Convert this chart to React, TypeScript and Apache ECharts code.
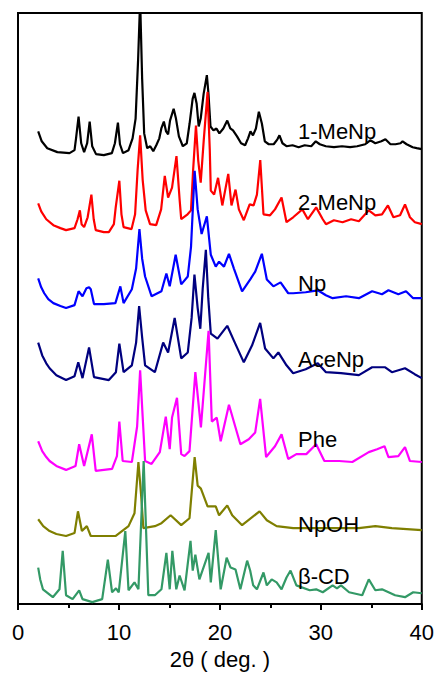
import { useEffect, useRef } from "react";
import * as echarts from "echarts";

type P = [number, number];

const xTicks = [0, 10, 20, 30, 40];
const sampleNames = ["1-MeNp", "2-MeNp", "Np", "AceNp", "Phe", "NpOH", "β-CD"];
const sampleColors = ["#000000", "#ff0000", "#0000ff", "#00007f", "#ff00ff", "#7f7f00", "#339966"];
// cap-centre pixel of each curve label
const labelY = [131.5, 202, 283, 359, 439, 524, 576.5];

const meNp1: P[] = [
  [2.0,479],[2.35,469],[2.9,462],[3.9,458],[5.1,457],[5.6,460],[5.75,472],[6.0,494],[6.26,467],[6.55,458],[6.85,467],[7.1,489],[7.35,464],[7.73,456],[8.5,455],[9.3,457],[9.6,467],[9.9,488],[10.1,466],[10.4,457],[10.95,460],[11.35,472],[11.65,492],[11.9,552],[12.1,612],[12.3,532],[12.5,477],[12.8,462],[13.1,464],[13.4,459],[13.7,465],[14.0,472],[14.2,482],[14.45,489],[14.67,479],[14.87,476],[15.06,490],[15.42,502],[15.65,492],[15.94,474],[16.33,464],[16.72,467],[17.0,487],[17.3,512],[17.48,518],[17.7,507],[17.9,484],[18.1,492],[18.39,517],[18.71,536],[18.87,517],[19.07,484],[19.36,480],[19.66,482],[19.95,477],[20.34,482],[20.73,490],[21.03,482],[21.3,480],[21.7,474],[22.1,467],[22.5,465],[22.79,472],[23.03,479],[23.28,475],[23.57,482],[23.86,499],[24.16,487],[24.45,469],[24.84,466],[25.33,466],[25.7,471],[25.9,475],[26.2,467],[26.6,464],[27.2,465],[27.8,463],[28.4,465],[29.05,464],[29.5,469],[29.9,466],[30.5,464],[31.3,463],[32.1,464],[32.9,463],[33.6,464],[34.4,466],[34.9,470],[35.4,467],[36.0,469],[36.4,471],[36.9,466],[37.4,466],[37.9,467],[38.1,469],[38.5,466],[39.1,463],[39.5,462],[40.0,461]
];

const meNp2: P[] = [
  [2.0,406],[2.3,398],[2.8,390],[3.5,384],[4.2,381],[4.76,379],[5.6,381],[5.9,390],[6.13,399],[6.3,385],[6.55,382],[6.9,392],[7.27,415],[7.5,390],[7.7,379],[8.5,377],[9.0,377],[9.5,385],[9.68,402],[10.04,429],[10.25,395],[10.46,382],[11.25,380],[11.6,395],[11.85,440],[12.1,475],[12.35,430],[12.65,399],[13.08,385],[13.69,384],[14.18,400],[14.54,434],[14.87,412],[15.26,422],[15.7,454],[16.01,410],[16.17,390],[16.8,395],[17.14,399],[17.35,440],[17.63,485],[17.85,450],[18.1,427],[18.4,470],[18.78,519],[19.0,460],[19.1,419],[19.43,415],[19.82,432],[20.24,404],[20.83,436],[21.15,404],[21.55,420],[21.88,400],[22.37,389],[22.95,405],[23.34,404],[23.67,415],[24.0,450],[24.32,395],[24.97,394],[25.46,400],[26.11,412],[26.6,387],[27.26,392],[28.17,400],[28.72,390],[29.54,402],[30.19,390],[30.51,385],[31.3,389],[32.15,387],[33.0,390],[33.77,388],[34.75,399],[35.4,394],[36.06,395],[36.65,404],[37.19,392],[37.85,394],[38.34,405],[38.83,392],[39.32,387],[40.0,385]
];

const np: P[] = [
  [2.0,330],[2.3,321],[2.6,315],[3.0,309],[3.5,305],[4.2,302],[4.76,300],[5.6,303],[6.0,317],[6.39,312],[6.78,320],[7.04,321],[7.21,319],[7.53,304],[8.5,304],[9.65,305],[10.14,322],[10.46,305],[11.28,319],[11.7,340],[12.03,380],[12.3,350],[12.59,332],[13.23,312],[14.21,317],[14.7,335],[15.03,322],[15.62,354],[16.17,324],[16.82,332],[17.14,362],[17.5,439],[17.8,400],[18.19,375],[18.71,393],[19.1,354],[19.59,342],[19.92,347],[20.41,342],[20.9,355],[21.39,340],[22.2,317],[23.01,329],[23.5,337],[24.16,355],[24.65,329],[25.3,322],[26.01,326],[26.77,315],[27.26,315],[28.5,316],[29.7,318],[30.5,313],[31.17,310],[32.5,312],[33.77,310],[35.08,317],[36.06,314],[36.7,318],[37.68,314],[38.44,317],[39.15,310],[40.0,310]
];

const aceNp: P[] = [
  [2.0,265],[2.4,252],[2.8,244],[3.13,239],[3.8,232],[4.76,227],[5.6,231],[5.97,245],[6.39,229],[7.04,260],[7.53,230],[9.0,227],[9.7,235],[10.04,264],[10.46,235],[11.28,242],[11.7,265],[12.0,302],[12.3,270],[12.59,242],[13.56,235],[14.38,265],[14.87,255],[15.52,290],[16.17,249],[16.82,255],[17.2,290],[17.48,334],[17.8,300],[18.06,279],[18.3,320],[18.61,359],[18.85,310],[19.1,274],[19.76,269],[20.73,282],[21.39,267],[22.37,245],[23.18,262],[23.99,285],[24.48,259],[25.3,249],[25.79,255],[26.6,242],[27.26,234],[28.5,238],[29.7,244],[30.51,235],[32.0,234],[33.77,232],[35.08,240],[36.38,240],[37.04,235],[38.34,239],[39.3,233],[40.0,229]
];

const phe: P[] = [
  [2.0,165],[2.4,155],[2.8,149],[3.13,145],[3.8,140],[4.76,136],[5.7,140],[6.06,162],[6.55,140],[7.31,172],[7.7,135],[9.32,137],[9.8,150],[10.04,185],[10.37,145],[11.28,144],[11.8,180],[12.1,237],[12.35,190],[12.59,145],[13.23,142],[14.05,154],[14.64,190],[15.03,157],[15.26,189],[15.75,209],[16.17,152],[16.5,150],[16.99,155],[17.57,235],[18.12,179],[18.88,277],[19.2,185],[19.69,189],[20.08,165],[20.9,202],[21.55,179],[22.03,162],[22.86,167],[23.5,174],[23.99,208],[24.58,149],[25.46,160],[26.11,172],[26.77,147],[27.58,152],[28.56,152],[29.54,162],[30.35,145],[31.81,145],[33.12,144],[34.75,154],[35.57,157],[36.31,160],[36.7,149],[37.68,150],[38.34,159],[38.83,145],[40.0,144]
];

const npOH: P[] = [
  [2.0,86],[2.5,79],[3.13,74],[3.8,71],[4.76,69],[5.6,72],[5.94,94],[6.33,74],[6.82,79],[7.21,69],[9.65,69],[10.95,79],[11.54,92],[11.93,144],[12.2,110],[12.42,77],[13.56,79],[14.21,82],[15.12,90],[16.17,80],[16.99,87],[17.5,149],[17.8,120],[18.12,117],[18.78,99],[19.59,99],[19.92,90],[20.73,100],[21.22,90],[22.2,80],[23.93,94],[24.65,85],[25.62,79],[27.26,77],[30.51,77],[33.77,77],[35.4,79],[37.04,77],[40.0,75]
];

const betaCD: P[] = [
  [2.0,37],[2.2,25],[2.47,15],[3.45,7],[4.11,15],[4.43,54],[4.76,9],[5.41,5],[6.06,14],[6.39,5],[7.36,2],[8.34,5],[8.9,45],[9.32,12],[9.71,16],[9.98,12],[10.63,74],[10.95,14],[11.54,22],[11.93,15],[12.45,145],[12.91,9],[13.56,9],[14.21,15],[14.7,52],[15.03,15],[15.29,54],[15.68,15],[16.01,29],[16.5,14],[17.09,64],[17.31,34],[17.57,50],[17.97,25],[18.88,52],[19.1,22],[19.59,75],[20.08,15],[20.67,47],[21.06,37],[21.55,35],[22.03,15],[22.7,44],[23.0,34],[23.3,19],[23.67,15],[24.32,32],[24.65,19],[25.13,25],[25.62,22],[26.11,15],[26.6,27],[27.0,34],[27.58,19],[28.9,14],[29.54,15],[30.19,12],[31.17,19],[31.6,16],[32.0,19],[32.8,12],[34.1,9],[34.75,25],[35.4,14],[36.06,15],[37.36,9],[38.34,7],[39.15,12],[40.0,11]
];

const patterns: P[][] = [meNp1, meNp2, np, aceNp, phe, npOH, betaCD];

export default function App() {
  const ref = useRef<HTMLDivElement>(null);
  useEffect(() => {
    if (!ref.current) return;
    const chart = echarts.init(ref.current, null, { renderer: "svg", width: 437, height: 675 });
    const font = "'Liberation Sans', Arial, sans-serif";
    chart.setOption({
      animation: false,
      grid: {
        left: 18, right: 10, top: 13, bottom: 63,
        show: true, borderColor: "#000", borderWidth: 2, backgroundColor: "transparent",
      },
      xAxis: {
        type: "value",
        min: xTicks[0],
        max: xTicks[xTicks.length - 1],
        interval: 10,
        name: "2θ ( deg. )",
        nameLocation: "middle",
        nameGap: 41,
        nameTextStyle: { fontSize: 22, color: "#000", fontFamily: font },
        axisLine: { show: true, lineStyle: { color: "#000", width: 2 } },
        axisTick: { show: true, length: 6, lineStyle: { color: "#000", width: 2 } },
        minorTick: { show: true, splitNumber: 2, length: 4, lineStyle: { color: "#000", width: 2 } },
        splitLine: { show: false },
        axisLabel: { fontSize: 22, color: "#000", fontFamily: font, margin: 17 },
      },
      yAxis: {
        type: "value",
        min: 0,
        max: 599,
        axisLine: { show: true, onZero: false, lineStyle: { color: "#000", width: 2 } },
        axisTick: { show: false },
        axisLabel: { show: false },
        splitLine: { show: false },
      },
      series: patterns.map((d, i) => ({
        type: "line",
        name: sampleNames[i],
        data: d,
        showSymbol: false,
        symbol: "none",
        clip: true,
        lineStyle: { color: sampleColors[i], width: 2.2 },
        z: 2 + i,
      })),
      graphic: sampleNames.map((t, i) => ({
        type: "text",
        x: 298,
        y: labelY[i],
        z: 100,
        style: {
          text: t,
          fontSize: 22,
          fontFamily: font,
          fill: "#000",
          verticalAlign: "middle",
          align: "left",
        },
      })),
    });
    return () => chart.dispose();
  }, []);
  return (
    <div
      ref={ref}
      style={{ position: "absolute", left: 0, top: 0, width: 437, height: 675 }}
    />
  );
}
